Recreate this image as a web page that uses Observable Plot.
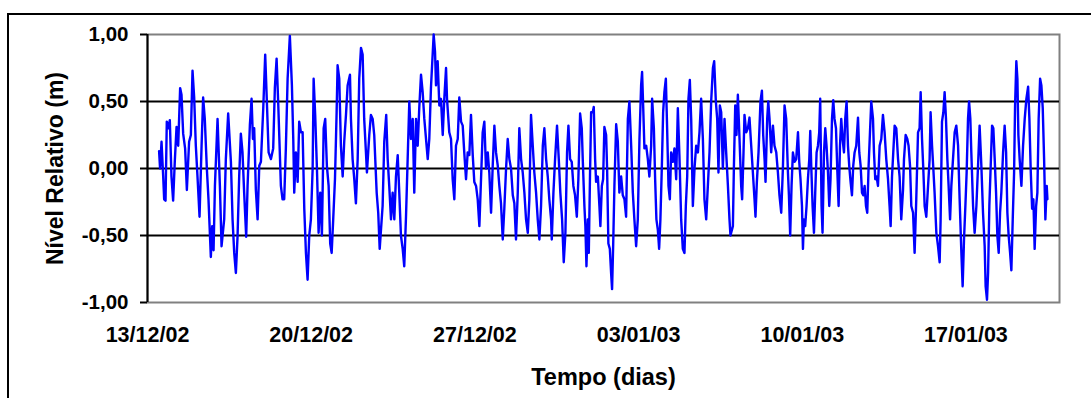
<!DOCTYPE html>
<html>
<head>
<meta charset="utf-8">
<script src="https://cdn.jsdelivr.net/npm/d3@7"></script>
<script src="https://cdn.jsdelivr.net/npm/@observablehq/plot@0.6"></script>
<style>
  html, body { margin: 0; padding: 0; background: #fff; overflow: hidden; }
  #frame { position: absolute; left: 7px; top: 13px; width: 3000px; height: 3000px;
           border-left: 2px solid #000; border-top: 2px solid #000; pointer-events: none; }
</style>
</head>
<body>
<div id="chart"></div>
<div id="frame"></div>
<script>
// Hours since 13/12/2002 00:00 and relative water level (m)
const leituras = [
[11.9,0.13],[12.9,0.0],[14.4,0.2],[16.1,-0.06],[17.1,-0.23],[18.5,-0.24],[19.8,0.35],[21.5,0.3],[22.9,0.36],[24.6,-0.06],
[26.3,-0.24],[28.0,0.05],[29.8,0.31],[31.5,0.17],[33.5,0.6],[34.9,0.55],[36.6,0.26],[38.6,0.15],[40.4,-0.16],[42.7,0.2],
[44.5,0.25],[46.2,0.73],[47.9,0.53],[49.6,0.17],[51.3,-0.06],[53.4,-0.36],[55.5,0.17],[57.1,0.53],[58.8,0.37],[60.9,0.0],
[62.6,-0.23],[65.0,-0.66],[66.4,-0.43],[67.8,-0.61],[69.2,-0.13],[71.9,0.37],[74.3,-0.13],[76.0,-0.58],[78.7,-0.38],[80.4,0.07],
[82.8,0.41],[85.6,0.05],[87.3,-0.38],[89.0,-0.63],[90.7,-0.78],[92.4,-0.51],[94.1,-0.06],[95.8,0.26],[97.5,0.12],[99.2,-0.18],
[101.3,-0.51],[102.7,-0.13],[105.1,0.33],[106.8,0.52],[108.2,0.22],[109.5,0.3],[111.2,-0.16],[113.0,-0.38],[114.7,0.02],[116.4,0.05],
[118.8,0.45],[120.8,0.85],[122.5,0.5],[124.3,0.12],[126.7,0.07],[129.0,0.15],[130.7,0.6],[132.5,0.82],[134.1,0.5],[136.9,-0.13],
[138.6,-0.23],[140.3,-0.23],[142.0,0.15],[143.8,0.67],[146.1,0.99],[148.2,0.62],[149.6,0.22],[150.6,-0.18],[152.3,0.12],[154.1,-0.1],
[155.7,0.35],[157.5,0.27],[159.2,0.27],[160.9,-0.3],[162.6,-0.63],[164.3,-0.83],[166.0,-0.5],[167.7,-0.38],[169.5,0.0],[170.5,0.67],
[172.1,0.4],[173.9,0.0],[175.6,-0.48],[177.3,-0.18],[179.0,-0.5],[180.8,0.3],[182.4,0.37],[184.1,0.02],[185.9,-0.13],[187.5,-0.56],
[189.0,-0.63],[190.6,-0.38],[192.4,-0.08],[194.1,0.42],[195.1,0.77],[196.8,0.67],[198.5,0.17],[200.3,-0.06],[201.9,0.2],[203.7,0.4],
[205.4,0.62],[207.8,0.7],[208.8,0.37],[210.5,0.07],[212.2,-0.08],[213.9,-0.26],[215.7,0.07],[217.3,0.67],[219.1,0.9],[220.8,0.85],
[222.4,0.37],[224.2,0.12],[225.2,-0.03],[227.6,0.25],[229.3,0.4],[231.1,0.37],[232.7,0.25],[235.2,-0.18],[236.8,-0.33],[238.3,-0.6],
[239.6,-0.46],[241.3,-0.28],[243.0,0.2],[245.0,0.4],[246.5,0.07],[248.1,-0.13],[249.9,-0.38],[251.6,-0.18],[253.3,-0.38],[255.0,-0.06],
[256.8,0.1],[258.4,-0.18],[260.1,-0.5],[261.9,-0.6],[263.5,-0.73],[265.3,-0.36],[267.0,0.07],[268.7,0.5],[270.4,0.22],[272.2,0.37],
[273.8,-0.18],[275.6,0.37],[277.3,0.17],[278.9,0.45],[280.7,0.7],[282.4,0.57],[284.1,0.37],[287.6,0.07],[289.2,0.22],[290.9,0.6],
[293.7,1.0],[295.1,0.87],[296.1,0.62],[297.8,0.8],[299.5,0.47],[301.2,0.52],[303.0,0.25],[304.6,0.52],[306.4,0.75],[307.4,0.52],
[309.7,0.27],[311.5,0.22],[313.2,-0.08],[314.9,-0.23],[316.6,0.17],[318.4,0.22],[320.0,0.53],[321.8,0.35],[323.5,0.32],[325.1,0.12],
[326.9,-0.08],[328.6,0.12],[330.3,0.1],[332.0,0.4],[333.8,0.1],[335.4,-0.1],[337.2,-0.13],[338.9,-0.23],[340.6,-0.43],[342.3,-0.08],
[344.0,0.27],[345.7,0.35],[347.4,0.0],[349.2,0.12],[350.8,-0.03],[352.6,-0.33],[354.3,0.02],[356.0,0.32],[357.7,0.12],[359.5,0.02],
[361.1,-0.13],[362.8,-0.26],[364.6,-0.53],[366.2,-0.3],[368.0,0.0],[369.7,0.22],[371.4,0.07],[373.1,0.0],[374.9,-0.2],[376.5,-0.26],
[378.2,-0.53],[380.0,-0.18],[381.6,0.3],[383.4,0.07],[385.1,-0.03],[386.8,-0.18],[388.5,-0.38],[390.3,-0.48],[391.9,-0.23],[393.6,0.4],
[395.4,0.17],[397.0,-0.03],[398.8,-0.18],[400.5,-0.38],[402.2,-0.53],[403.9,-0.28],[405.7,0.17],[407.3,0.3],[409.1,0.07],[410.8,-0.06],
[412.4,-0.23],[414.2,-0.38],[414.9,-0.53],[416.6,-0.18],[418.3,0.07],[420.3,0.32],[422.1,0.07],[423.7,-0.18],[425.5,-0.38],[427.2,-0.7],
[428.9,-0.48],[430.6,0.12],[432.0,0.32],[433.7,0.07],[435.4,0.05],[437.1,-0.13],[438.8,-0.2],[440.6,-0.36],[442.2,-0.08],[444.0,0.41],
[445.7,0.3],[446.7,0.07],[448.4,-0.28],[449.4,-0.43],[450.5,-0.73],[451.9,-0.38],[452.9,-0.63],[454.2,-0.03],[455.3,0.42],[457.0,0.42],
[458.0,0.46],[459.4,0.07],[460.4,-0.1],[462.2,-0.06],[463.8,-0.28],[464.8,-0.43],[466.3,-0.13],[467.6,-0.08],[468.9,0.31],[470.7,0.25],
[471.7,0.0],[473.0,-0.56],[474.5,-0.6],[475.8,-0.78],[476.8,-0.9],[477.9,-0.58],[479.2,-0.13],[481.0,0.33],[482.7,0.2],[484.3,-0.18],
[486.1,-0.06],[487.8,-0.2],[489.5,-0.23],[491.2,-0.36],[493.0,0.37],[494.6,0.5],[496.4,0.17],[498.1,-0.18],[499.7,-0.38],[501.5,-0.58],
[503.2,-0.38],[504.9,0.22],[506.6,0.62],[507.6,0.72],[508.7,0.47],[510.0,0.15],[511.8,0.17],[513.5,0.07],[515.1,-0.06],[516.9,0.17],
[517.9,0.52],[519.7,0.3],[521.0,-0.08],[522.3,-0.38],[523.8,-0.46],[525.1,-0.6],[526.4,-0.38],[527.9,0.02],[529.2,0.42],[530.5,0.57],
[532.0,0.67],[533.3,0.3],[534.7,-0.13],[536.1,-0.23],[537.4,0.12],[539.2,0.05],[540.8,0.15],[542.6,-0.08],[544.3,0.45],[545.9,0.1],
[547.7,-0.38],[549.4,-0.6],[551.1,-0.63],[552.5,-0.28],[553.9,-0.06],[555.2,0.52],[556.6,0.66],[558.0,0.37],[559.7,-0.28],[561.4,0.0],
[563.1,0.17],[564.9,0.12],[566.5,0.27],[568.2,0.52],[570.0,0.22],[571.6,-0.23],[573.4,-0.38],[575.1,-0.13],[576.8,0.12],[578.5,0.5],
[580.3,0.75],[581.6,0.8],[583.3,0.5],[584.7,0.37],[586.0,-0.03],[587.4,0.47],[588.8,0.42],[590.5,0.0],[592.2,0.37],[593.9,0.12],
[595.7,-0.13],[597.3,-0.38],[598.3,-0.5],[600.8,-0.43],[601.8,0.0],[603.2,0.47],[604.5,0.25],[605.9,0.55],[607.6,0.22],[609.3,-0.13],
[610.3,-0.23],[611.7,0.12],[612.7,0.4],[614.5,0.27],[616.2,0.3],[617.8,0.38],[619.6,0.17],[621.3,-0.03],[623.0,-0.23],[624.0,-0.36],
[625.4,-0.1],[627.1,0.12],[629.1,0.5],[630.6,0.58],[631.9,0.25],[633.3,0.07],[634.3,-0.1],[636.0,0.37],[637.1,0.5],[638.4,0.37],
[640.1,0.12],[641.9,0.32],[643.5,0.17],[645.3,0.12],[647.0,-0.03],[648.6,-0.2],[650.4,-0.33],[652.1,0.0],[653.8,0.47],[655.5,0.37],
[657.3,-0.03],[658.3,-0.2],[659.6,-0.5],[661.0,-0.13],[662.4,0.12],[664.1,0.05],[665.8,0.07],[667.6,0.27],[668.9,0.05],[670.2,-0.08],
[671.7,-0.28],[672.7,-0.6],[673.7,-0.38],[675.0,-0.43],[676.4,-0.28],[677.8,-0.08],[679.2,0.07],[680.2,0.28],[681.2,0.02],[682.6,-0.28],
[684.0,-0.48],[685.3,-0.18],[686.7,0.12],[688.1,0.17],[689.4,0.27],[690.4,0.52],[691.8,-0.28],[692.8,-0.48],[694.3,0.12],[695.6,0.3],
[696.9,0.17],[698.4,-0.03],[699.7,-0.28],[701.0,-0.08],[702.5,0.37],[703.8,0.51],[705.1,0.37],[706.6,0.3],[707.9,0.0],[709.3,-0.28],
[710.7,0.17],[712.0,0.37],[713.4,0.22],[714.8,0.12],[716.1,0.37],[717.5,0.5],[718.9,0.17],[720.2,0.02],[721.6,-0.1],[723.0,-0.2],
[724.3,0.02],[725.7,0.12],[727.4,0.17],[729.2,0.38],[730.5,0.12],[731.9,0.02],[733.3,-0.18],[734.6,-0.2],[736.0,-0.13],[737.4,-0.28],
[738.7,-0.33],[740.1,0.02],[741.5,0.27],[742.8,0.5],[744.6,0.37],[745.6,0.12],[746.9,-0.08],[748.3,-0.06],[749.7,-0.13],[751.4,0.17],
[753.1,0.22],[754.8,0.4],[756.5,0.27],[758.2,0.07],[760.0,-0.08],[761.6,-0.28],[762.7,-0.43],[764.1,-0.06],[765.4,0.12],[766.8,0.32],
[768.5,0.3],[770.3,0.07],[771.9,-0.06],[773.6,-0.38],[775.4,-0.16],[776.4,0.07],[778.1,0.25],[779.8,0.22],[781.1,0.17],[782.6,0.02],
[783.9,-0.28],[785.7,-0.33],[787.3,-0.63],[789.0,-0.23],[790.8,0.27],[792.4,0.3],[793.5,0.57],[794.9,0.22],[796.2,0.0],[797.6,-0.28],
[799.3,-0.36],[801.1,-0.13],[802.7,0.07],[803.7,0.42],[805.2,0.17],[806.5,0.0],[807.8,-0.18],[809.6,-0.48],[811.3,-0.58],[813.0,-0.7],
[814.0,-0.38],[815.4,0.35],[816.8,0.42],[818.1,0.57],[819.5,0.37],[820.9,0.07],[822.2,-0.13],[823.7,-0.38],[825.0,-0.13],[826.7,0.07],
[828.4,0.27],[830.1,0.32],[831.9,0.17],[833.5,-0.23],[835.3,-0.63],[836.6,-0.88],[838.0,-0.53],[839.4,-0.28],[840.7,-0.03],[842.1,0.37],
[843.2,0.5],[844.5,0.37],[845.5,0.12],[847.3,-0.28],[848.9,-0.48],[850.7,-0.28],[852.4,0.02],[854.0,0.32],[855.8,0.02],[857.5,-0.33],
[859.2,-0.58],[860.2,-0.88],[861.6,-0.98],[862.7,-0.78],[864.0,-0.28],[865.4,0.02],[866.8,0.32],[868.1,0.3],[869.5,0.07],[870.9,-0.18],
[872.2,-0.5],[873.6,-0.63],[875.0,-0.33],[876.3,-0.18],[878.1,0.12],[879.7,0.32],[881.2,0.12],[882.5,-0.33],[883.8,-0.5],[885.3,-0.63],
[886.6,-0.76],[888.0,-0.38],[889.4,-0.03],[890.4,0.47],[891.7,0.8],[892.8,0.67],[893.8,0.25],[895.1,0.07],[896.9,-0.13],[898.6,0.17],
[900.3,0.37],[902.0,0.52],[903.8,0.61],[905.1,0.37],[906.4,0.0],[907.9,-0.3],[909.2,-0.23],[910.5,-0.6],[912.0,-0.28],[913.3,-0.18],
[914.6,0.37],[916.1,0.67],[917.4,0.62],[918.8,0.45],[920.2,0.07],[921.5,-0.38],[922.9,-0.13],[923.6,-0.23]
];

const inicio = "2002-12-13";
const fim = "2003-01-21";
const tickDatas = ["2002-12-13", "2002-12-20", "2002-12-27", "2003-01-03", "2003-01-10", "2003-01-17"];
const yTicks = [-1, -0.5, 0, 0.5, 1];
const gradeY = [-0.5, 0, 0.5];
const tituloY = "Nível Relativo (m)";
const tituloX = "Tempo (dias)";

const t0 = new Date(inicio + "T00:00:00Z");
const dados = leituras.map(([h, v]) => ({t: new Date(+t0 + h * 3600e3), v}));
const fmtData = d3.utcFormat("%d/%m/%y");
const fmtY = d => d.toFixed(2).replace(".", ",");

const chart = Plot.plot({
  width: 1091,
  height: 398,
  marginLeft: 147,
  marginRight: 32,
  marginTop: 34,
  marginBottom: 96,
  style: {fontFamily: "'Liberation Sans', Arial, sans-serif", fontSize: "21px", fontWeight: "bold", color: "#000", background: "#fff"},
  x: {type: "utc", domain: [t0, new Date(fim + "T00:00:00Z")]},
  y: {domain: [-1, 1]},
  marks: [
    Plot.frame({stroke: "#808080", strokeWidth: 2}),
    Plot.ruleY(gradeY, {stroke: "#000", strokeWidth: 1.8}),
    Plot.line(dados, {x: "t", y: "v", stroke: "#0000ff", strokeWidth: 2.4}),
    Plot.ruleX([t0], {stroke: "#000", strokeWidth: 2}),
    Plot.axisY(yTicks, {tickFormat: fmtY, tickSize: 7, tickPadding: 12, stroke: "#000", strokeWidth: 2, label: null, fontSize: 20.5}),
    Plot.axisX(tickDatas.map(s => new Date(s + "T00:00:00Z")), {tickFormat: fmtData, tickSize: 0, tickPadding: 24, label: null, fontSize: 21.5}),
    Plot.text([tituloY], {frameAnchor: "left", dx: -92, rotate: -90, text: d => d, textAnchor: "middle", lineAnchor: "middle", fontSize: 23}),
    Plot.text([tituloX], {frameAnchor: "bottom", dy: 75, text: d => d, textAnchor: "middle", lineAnchor: "middle", fontSize: 23.5})
  ]
});
document.getElementById("chart").appendChild(chart);
</script>
</body>
</html>
